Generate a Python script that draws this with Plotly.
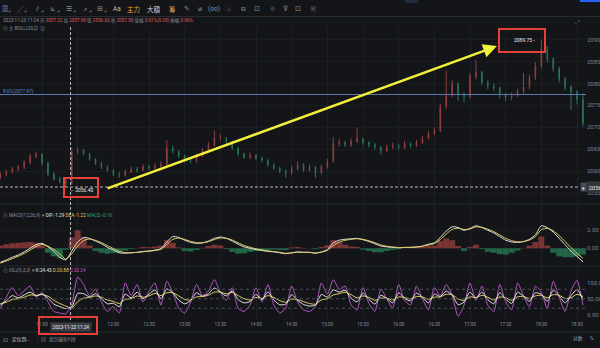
import plotly.graph_objects as go
import pandas as pd

# ---------------- data (5-minute sampling) ----------------
times = pd.date_range("2023-11-23 10:25", periods=99, freq="5min")

opens = [2058.7, 2059.2, 2059.8, 2060.6, 2060.9, 2062.0, 2063.4, 2063.8, 2061.8, 2059.4,
         2058.2, 2057.8, 2057.2, 2064.5, 2064.8, 2064.0, 2062.8, 2061.8, 2061.0, 2060.2,
         2059.3, 2059.0, 2059.8, 2060.5, 2060.2, 2061.0, 2060.8, 2061.2, 2061.5, 2065.2,
         2064.6, 2063.6, 2062.5, 2062.4, 2063.5, 2064.8, 2066.0, 2067.6, 2067.6, 2066.8,
         2065.3, 2064.0, 2063.2, 2063.6, 2063.0, 2062.5, 2061.5, 2060.8, 2060.0, 2059.5,
         2060.5, 2061.5, 2060.2, 2060.9, 2059.6, 2061.0, 2062.2, 2066.2, 2066.6, 2066.0,
         2066.8, 2067.4, 2066.5, 2066.0, 2065.5, 2064.6, 2065.5, 2065.8, 2065.4, 2066.2,
         2065.8, 2066.5, 2067.5, 2068.6, 2069.2, 2074.8, 2077.2, 2079.8, 2077.5, 2077.0,
         2081.6, 2082.6, 2080.2, 2079.4, 2079.0, 2077.5, 2076.8, 2077.2, 2078.2, 2079.2,
         2081.4, 2084.0, 2087.8, 2085.6, 2083.4, 2081.0, 2079.2, 2078.0, 2076.4]
closes = [2059.2, 2059.8, 2060.6, 2060.9, 2062.0, 2063.4, 2063.8, 2061.8, 2059.4, 2058.2,
          2057.8, 2057.2, 2064.5, 2064.8, 2064.0, 2062.8, 2061.8, 2061.0, 2060.2, 2059.3,
          2059.0, 2059.8, 2060.5, 2060.2, 2061.0, 2060.8, 2061.2, 2061.5, 2065.2, 2064.6,
          2063.6, 2062.5, 2062.4, 2063.5, 2064.8, 2066.0, 2067.6, 2067.6, 2066.8, 2065.3,
          2064.0, 2063.2, 2063.6, 2063.0, 2062.5, 2061.5, 2060.8, 2060.0, 2059.5, 2060.5,
          2061.5, 2060.2, 2060.9, 2059.6, 2061.0, 2062.2, 2066.2, 2066.6, 2066.0, 2066.8,
          2067.4, 2066.5, 2066.0, 2065.5, 2064.6, 2065.5, 2065.8, 2065.4, 2066.2, 2065.8,
          2066.5, 2067.5, 2068.6, 2069.2, 2074.8, 2077.2, 2079.8, 2077.5, 2077.0, 2081.6,
          2082.6, 2080.2, 2079.4, 2079.0, 2077.5, 2076.8, 2077.2, 2078.2, 2079.2, 2081.4,
          2084.0, 2087.8, 2085.6, 2083.4, 2081.0, 2079.2, 2078.0, 2076.4, 2071.0]
highs = [2059.8, 2060.3, 2061.0, 2061.4, 2062.5, 2064.0, 2064.4, 2064.0, 2062.2, 2059.8,
         2058.8, 2058.2, 2065.3, 2065.4, 2065.0, 2064.2, 2063.0, 2062.2, 2061.3, 2060.5,
         2059.8, 2060.4, 2061.0, 2061.0, 2061.6, 2061.5, 2061.8, 2062.3, 2067.1, 2065.8,
         2064.8, 2063.8, 2063.0, 2064.0, 2065.3, 2066.6, 2069.2, 2068.4, 2067.8, 2067.0,
         2065.4, 2064.2, 2064.3, 2063.9, 2063.3, 2062.7, 2061.7, 2061.0, 2060.4, 2061.2,
         2062.2, 2061.8, 2061.6, 2061.2, 2061.6, 2062.8, 2067.8, 2067.4, 2066.9, 2067.5,
         2070.0, 2067.6, 2066.8, 2066.4, 2065.8, 2066.1, 2066.5, 2066.2, 2066.9, 2066.6,
         2067.1, 2068.0, 2069.2, 2070.0, 2075.4, 2083.0, 2080.8, 2080.2, 2078.0, 2082.3,
         2085.3, 2082.8, 2080.8, 2080.0, 2079.3, 2077.8, 2077.9, 2078.8, 2082.4, 2082.0,
         2084.8, 2089.75, 2088.5, 2086.0, 2083.8, 2081.5, 2079.6, 2078.5, 2077.8]
lows = [2058.2, 2058.8, 2059.5, 2060.0, 2060.5, 2061.6, 2062.9, 2061.3, 2058.9, 2057.8,
        2057.2, 2056.4, 2056.9, 2064.0, 2063.6, 2062.4, 2061.4, 2060.5, 2059.8, 2058.9,
        2058.5, 2058.8, 2059.6, 2059.7, 2060.0, 2060.3, 2060.4, 2060.9, 2061.2, 2064.0,
        2063.0, 2062.0, 2061.8, 2062.0, 2063.2, 2064.4, 2065.6, 2067.0, 2066.2, 2064.8,
        2063.5, 2062.8, 2062.8, 2062.5, 2062.0, 2061.0, 2060.3, 2059.5, 2058.5, 2059.2,
        2060.2, 2059.8, 2059.9, 2058.5, 2059.3, 2060.6, 2062.0, 2065.6, 2065.5, 2065.6,
        2066.4, 2066.0, 2065.4, 2064.9, 2063.7, 2064.3, 2065.0, 2064.9, 2065.0, 2065.3,
        2065.5, 2066.2, 2067.2, 2068.2, 2068.9, 2074.2, 2076.8, 2076.0, 2075.6, 2076.6,
        2080.9, 2079.6, 2078.7, 2078.2, 2076.6, 2076.0, 2076.2, 2076.9, 2077.7, 2078.6,
        2080.8, 2083.5, 2084.8, 2082.7, 2080.2, 2078.4, 2073.9, 2075.2, 2070.2]

dif = [-1.55, -1.3, -1.0, -0.75, -0.4, 0.0, 0.4, 0.55, 0.15, -0.35,
       -1.0, -1.29, -0.3, 0.7, 1.2, 1.1, 0.8, 0.5, 0.1, -0.2,
       -0.5, -0.55, -0.5, -0.45, -0.35, -0.3, -0.2, -0.05, 0.7, 1.3,
       1.2, 0.9, 0.65, 0.55, 0.6, 0.8, 1.1, 1.25, 1.1, 0.8,
       0.45, 0.15, 0.0, -0.15, -0.25, -0.35, -0.4, -0.5, -0.6, -0.5,
       -0.4, -0.45, -0.45, -0.55, -0.4, -0.15, 0.6, 0.9, 1.0, 1.05,
       1.1, 0.95, 0.75, 0.5, 0.25, 0.15, 0.1, 0.05, 0.1, 0.1,
       0.15, 0.25, 0.45, 0.6, 1.2, 1.9, 2.4, 2.3, 2.0, 2.2,
       2.5, 2.3, 2.0, 1.7, 1.3, 0.9, 0.7, 0.65, 0.75, 1.0,
       1.5, 2.5, 2.3, 1.8, 1.1, 0.4, -0.3, -0.9, -1.5]
dea = [-1.65, -1.42, -1.15, -0.89, -0.57, -0.2, 0.19, 0.42, 0.24, -0.14,
       -0.62, -1.22, -0.62, 0.24, 0.86, 1.02, 0.88, 0.63, 0.29, -0.03,
       -0.34, -0.48, -0.49, -0.46, -0.39, -0.33, -0.25, -0.12, 0.41, 0.99,
       1.13, 0.98, 0.77, 0.63, 0.61, 0.73, 0.97, 1.15, 1.12, 0.91,
       0.61, 0.31, 0.11, -0.06, -0.18, -0.29, -0.36, -0.45, -0.55, -0.52,
       -0.44, -0.45, -0.45, -0.52, -0.44, -0.25, 0.3, 0.69, 0.89, 0.99,
       1.06, 0.99, 0.83, 0.62, 0.38, 0.23, 0.15, 0.08, 0.09, 0.1,
       0.13, 0.21, 0.37, 0.52, 0.96, 1.57, 2.11, 2.23, 2.08, 2.16,
       2.38, 2.33, 2.12, 1.85, 1.49, 1.11, 0.84, 0.72, 0.74, 0.91,
       1.29, 2.08, 2.22, 1.95, 1.40, 0.75, 0.07, -0.56, -1.11]
macd_hist = [0.3, 0.45, 0.55, 0.6, 0.65, 0.7, 0.6, 0.3, -0.5, -0.9,
             -1.1, -0.16, 1.2, 2.0, 1.2, 0.3, -0.3, -0.5, -0.6, -0.55,
             -0.45, -0.25, -0.1, 0.05, 0.15, 0.12, 0.2, 0.3, 0.9, 0.6,
             0.1, -0.3, -0.35, -0.2, 0.05, 0.25, 0.4, 0.3, -0.1, -0.4,
             -0.6, -0.55, -0.4, -0.3, -0.25, -0.2, -0.15, -0.2, -0.2, 0.1,
             0.15, 0.05, 0.0, -0.1, 0.15, 0.35, 0.9, 0.7, 0.4, 0.2,
             0.15, -0.15, -0.3, -0.45, -0.45, -0.3, -0.2, -0.1, 0.05, 0.05,
             0.1, 0.15, 0.3, 0.3, 0.8, 1.1, 0.9, 0.25, -0.3, 0.15,
             0.4, -0.1, -0.4, -0.5, -0.65, -0.7, -0.5, -0.25, 0.05, 0.3,
             0.7, 1.3, 0.3, -0.5, -0.9, -1.0, -1.0, -0.9, -0.7]

kdj_k = [30, 44, 60, 53, 62, 71, 59, 65, 52, 33,
         25, 19, 24.43, 67, 66, 56, 66, 50, 34, 36,
         25, 65, 53, 71, 50, 64, 78, 50, 81, 69,
         46, 34, 44, 69, 58, 66, 84, 71, 59, 75,
         47, 37, 41, 64, 47, 72, 46, 31, 33, 63,
         45, 32, 27, 30, 64, 55, 78, 71, 77, 52,
         40, 68, 48, 33, 61, 51, 37, 69, 51, 43,
         68, 54, 37, 65, 57, 74, 62, 31, 40, 71,
         51, 71, 47, 34, 69, 49, 35, 71, 58, 42,
         69, 64, 42, 77, 59, 37, 60, 79, 48]
kdj_d = [35, 39, 48, 50, 55, 62, 61, 63, 58, 45,
         35, 27, 20.88, 41, 52, 54, 59, 55, 46, 42,
         35, 48, 50, 59, 55, 59, 67, 60, 69, 69,
         59, 48, 46, 56, 57, 61, 71, 71, 66, 70,
         60, 50, 46, 54, 51, 60, 54, 44, 39, 49,
         47, 41, 35, 33, 46, 50, 62, 66, 71, 63,
         53, 59, 54, 45, 52, 52, 46, 56, 54, 49,
         57, 56, 48, 55, 56, 64, 63, 49, 45, 56,
         54, 61, 55, 46, 56, 53, 45, 56, 57, 51,
         59, 61, 53, 63, 61, 51, 53, 64, 57]
kdj_j = [20, 55, 85, 60, 75, 90, 55, 70, 40, 10,
         5, 2, 33.24, 118, 95, 60, 80, 40, 10, 25,
         5, 100, 60, 95, 40, 75, 100, 30, 105, 70,
         20, 5, 40, 95, 60, 75, 110, 70, 45, 85,
         20, 10, 30, 85, 40, 95, 30, 5, 20, 90,
         40, 15, 10, 25, 100, 65, 110, 80, 90, 30,
         15, 85, 35, 10, 80, 50, 20, 95, 45, 30,
         90, 50, 15, 85, 60, 95, 60, -5, 30, 100,
         45, 90, 30, 10, 95, 40, 15, 100, 60, 25,
         90, 70, 20, 105, 55, 10, 75, 108, 30]

price_ticks = [2055, 2060, 2065, 2070, 2075, 2080, 2085, 2090]
time_ticks = ["11:00", "11:30", "12:00", "12:30", "13:00", "13:30", "14:00", "14:30",
              "15:00", "15:30", "16:00", "16:30", "17:00", "17:30", "18:00", "18:30"]
fib_level = 2077.47
low_price = 2056.40
high_price = 2089.75
cross_time = "2023-11-23 11:24"

# ---------------- geometry helpers ----------------
W, H = 600, 348
ML, MR, MT, MB = 0, 14, 28, 28
PW, PH = W - ML - MR, H - MT - MB


def py(Y):
    return (H - MB - Y) / PH


def px(X):
    return (X - ML) / PW


BG = "#131519"
GRID = "#1d2026"
TXT = "#8a8f98"
RED = "#e05a5a"
FONT = "Roboto, 'Noto Sans CJK SC', sans-serif"
SP = "&nbsp;"

fig = go.Figure()

fig.add_trace(go.Candlestick(
    x=times, open=opens, high=highs, low=lows, close=closes,
    increasing=dict(line=dict(color="#8f4040", width=1), fillcolor="#8f4040"),
    decreasing=dict(line=dict(color="#2a7458", width=1), fillcolor="#2a7458"),
    whiskerwidth=0, hoverinfo="skip", xaxis="x", yaxis="y", showlegend=False))

hist_colors = ["#7a3434" if v >= 0 else "#216646" for v in macd_hist]
fig.add_trace(go.Bar(x=times, y=macd_hist, marker=dict(color=hist_colors, line=dict(width=0)),
                     width=300000, hoverinfo="skip", xaxis="x", yaxis="y2", showlegend=False))
fig.add_trace(go.Scatter(x=times, y=dif, mode="lines", line=dict(color="#e6e6e6", width=1, shape="spline", smoothing=0.6),
                         hoverinfo="skip", xaxis="x", yaxis="y2", showlegend=False))
fig.add_trace(go.Scatter(x=times, y=dea, mode="lines", line=dict(color="#e3cf63", width=1, shape="spline", smoothing=0.6),
                         hoverinfo="skip", xaxis="x", yaxis="y2", showlegend=False))

fig.add_trace(go.Scatter(x=times, y=kdj_j, mode="lines", line=dict(color="#b556c2", width=1, shape="spline", smoothing=0.6),
                         hoverinfo="skip", xaxis="x", yaxis="y3", showlegend=False))
fig.add_trace(go.Scatter(x=times, y=kdj_d, mode="lines", line=dict(color="#e3cf63", width=1, shape="spline", smoothing=0.6),
                         hoverinfo="skip", xaxis="x", yaxis="y3", showlegend=False))
fig.add_trace(go.Scatter(x=times, y=kdj_k, mode="lines", line=dict(color="#e6e6e6", width=1, shape="spline", smoothing=0.6),
                         hoverinfo="skip", xaxis="x", yaxis="y3", showlegend=False))

x_start = pd.Timestamp("2023-11-23 10:24:40")
x_end = pd.Timestamp("2023-11-23 18:37:34")
tick_times = [pd.Timestamp("2023-11-23 " + s) for s in time_ticks]
# the 11:30 label sits under the crosshair time label in the picture
tick_text_shown = ["" if s == "11:30" else s for s in time_ticks]

yax_common = dict(side="right", ticks="", showline=False, zeroline=False, automargin=False,
                  tickfont=dict(size=6, color="#7d828c", family=FONT), fixedrange=True)

fig.update_layout(
    width=W, height=H, margin=dict(l=ML, r=MR, t=MT, b=MB),
    paper_bgcolor=BG, plot_bgcolor=BG, font=dict(family=FONT, color=TXT, size=5),
    showlegend=False, boxgap=0.85, hovermode=False,
    xaxis=dict(domain=[0, 1], anchor="y3", range=[x_start, x_end], rangeslider=dict(visible=False),
               tickvals=tick_times, ticktext=tick_text_shown, ticks="", showline=False, zeroline=False,
               showgrid=True, gridcolor=GRID, gridwidth=1, automargin=False,
               tickfont=dict(size=4.6, color=TXT, family=FONT), fixedrange=True),
    yaxis=dict(domain=[py(203), 1.0], anchor="x", range=[2052.76, 2092.62],
               tickvals=price_ticks, ticktext=[f"{v:.2f}" for v in price_ticks],
               showgrid=True, gridcolor="#1a1d22", **yax_common),
    yaxis2=dict(domain=[py(265), py(205)], anchor="x", range=[-1.86, 4.81],
                tickvals=[0, 2], ticktext=["0.00", "2.00"], showgrid=True, gridcolor="#1a1d22", **yax_common),
    yaxis3=dict(domain=[0, py(267)], anchor="x", range=[-17, 150.2],
                tickvals=[0, 50, 100], ticktext=["0.00", "50.00", "100.00"], showgrid=False, **yax_common),
)

shapes = []
for Y in (16.5, 204, 266, 332):
    shapes.append(dict(type="line", xref="paper", yref="paper", x0=0, x1=px(600), y0=py(Y), y1=py(Y),
                       line=dict(color="#262a31", width=1)))
shapes.append(dict(type="line", xref="paper", yref="y", x0=0, x1=1, y0=fib_level, y1=fib_level,
                   line=dict(color="#5a78ad", width=1)))
shapes.append(dict(type="line", xref="paper", yref="y", x0=0, x1=px(580), y0=low_price, y1=low_price,
                   line=dict(color="#b8b8b8", width=1, dash="3px,2px")))
shapes.append(dict(type="line", xref="x", yref="paper", x0=cross_time, x1=cross_time,
                   y0=0, y1=py(25), line=dict(color="#b8b8b8", width=1, dash="3px,2px")))
for lv in (20, 50, 80):
    shapes.append(dict(type="line", xref="paper", yref="y3", x0=0, x1=1, y0=lv, y1=lv,
                       line=dict(color="#4a4d55", width=1, dash="3px,3px")))
shapes.append(dict(type="rect", xref="paper", yref="paper", x0=px(39), x1=px(97), y0=py(334), y1=py(317),
                   line=dict(color="#e5403a", width=2)))
shapes.append(dict(type="rect", xref="paper", yref="y", x0=px(64), x1=px(98), y0=2054.12, y1=2058.45,
                   line=dict(color="#e5403a", width=2)))
shapes.append(dict(type="rect", xref="paper", yref="y", x0=px(499), x1=px(545), y0=2087.15, y1=2092.4,
                   line=dict(color="#e5403a", width=2)))
shapes.append(dict(type="rect", xref="paper", yref="paper", x0=px(580), x1=px(600), y0=py(2), y1=py(0),
                   fillcolor="#2962ff", line=dict(width=0)))
shapes.append(dict(type="rect", xref="paper", yref="paper", x0=px(405), x1=px(418), y0=py(3), y1=py(0),
                   fillcolor="#1f2a3a", line=dict(width=0)))
fig.update_layout(shapes=shapes)

ann = []


def t(X, Y, s, color=TXT, size=4.7, xanchor="left", **kw):
    d = dict(x=px(X), y=py(Y), xref="paper", yref="paper", text=s, showarrow=False,
             xanchor=xanchor, yanchor="middle", font=dict(size=size, color=color, family=FONT))
    d.update(kw)
    ann.append(d)


def spans(parts):
    return SP.join(f"<span style='color:{c}'>{s}</span>" for s, c in parts)


# toolbar
tool = [(5, "▦", "#7b9cc9"), (20, "╱", TXT), (37, "⫽", TXT), (53, "⊾", TXT), (69, "☰", TXT),
        (85, "⩘", TXT), (100, "⊞", TXT), (117, "Aa", "#b8bcc4"), (133, "主力", "#e2a13f"),
        (154, "大額", "#cfd2d8"), (172, "筹", "#e2b040"), (187, "✎", TXT), (200, "⌀", TXT),
        (214, "(oo)", TXT), (229, "⌂", TXT), (243, "⧉", TXT), (257, "⊡", TXT), (272, "⟐", TXT),
        (285, "⊽", TXT), (298, "⊡", TXT), (313, "⎘", TXT)]
for X, s, c in tool:
    t(X, 9, s, c, size=6.5, xanchor="center")
for X in (9, 25, 42, 58, 74, 90, 105):
    t(X, 11, "◢", "#5a5f68", size=2.5, xanchor="center")
t(577, 22, "⤢", "#6f747c", size=6, xanchor="center")

# info line
info = [("2023-11-23 11:24", TXT), ("开", TXT), ("2057.22", RED), ("高", TXT),
        ("2057.90", RED), ("低", TXT), ("2056.63", RED), ("收", TXT),
        ("2057.50", RED), ("涨幅", TXT), ("0.01%(0.28)", RED), ("振幅", TXT),
        ("0.06%", RED)]
t(1, 20.7, spans(info), TXT, size=4.6)
t(1, 28.5, "⊖" + SP + "主" + SP + "BOLL(20,2)" + SP * 2 + "⊘", TXT)

# MACD legend
macd_leg = [("⊖", TXT), ("MACD(12,26,9)", TXT), ("▾", TXT), ("DIF:-1.29", "#e6e6e6"),
            ("DEA:-1.22", "#e3cf63"), ("MACD:-0.16", "#36a272")]
t(1, 215, spans(macd_leg), TXT, size=4.7)
# KDJ legend
kdj_leg = [("⊖", TXT), ("KDJ(9,3,3)", TXT), ("▾", TXT), ("K:24.43", "#e6e6e6"),
           ("D:20.88", "#e3cf63"), ("J:33.24", "#c060c8")]
t(1, 270, spans(kdj_leg), TXT, size=4.7)

ann.append(dict(x=0.002, y=fib_level + 0.6, xref="paper", yref="y", text="8.6%(2077.47)", showarrow=False,
                xanchor="left", yanchor="middle", font=dict(size=4.7, color="#5b8bd6", family=FONT)))

ann.append(dict(x=px(82), y=low_price - 0.7, xref="paper", yref="y", text="⌐" + SP + f"{low_price:.2f}",
                showarrow=False, xanchor="center", yanchor="middle",
                font=dict(size=5, color="#e8e8e8", family=FONT)))
ann.append(dict(x=px(524), y=high_price + 0.15, xref="paper", yref="y", text=f"{high_price:.2f}" + SP + "‐",
                showarrow=False, xanchor="center", yanchor="middle",
                font=dict(size=5, color="#e8e8e8", family=FONT)))

ann.append(dict(x=cross_time, y=py(327), xref="x", yref="paper", text=cross_time,
                showarrow=False, xanchor="center", yanchor="middle", bgcolor="#3a3e46", borderpad=1.5,
                font=dict(size=4.7, color="#f0f0f0", family=FONT)))
ann.append(dict(x=1.0, y=low_price, xref="paper", yref="y", text=f"{low_price:.2f}", showarrow=False,
                xanchor="left", yanchor="middle", bgcolor="#33363d", borderpad=1.5,
                font=dict(size=6, color="#e8e8e8", family=FONT)))
ann.append(dict(x=px(583.5), y=low_price, xref="paper", yref="y", text="+", showarrow=False,
                xanchor="center", yanchor="middle", bgcolor="#4a4e56", borderpad=0.5,
                font=dict(size=6, color="#ffffff", family=FONT)))

ann.append(dict(x="2023-11-23 17:22:40", y=2088.5, xref="x", yref="y",
                ax="2023-11-23 11:53:50", ay=2055.95, axref="x", ayref="y",
                text="", showarrow=True, arrowhead=2, arrowsize=1.1, arrowwidth=2.5, arrowcolor="#f4f03a"))

# bottom bar
t(5, 339, "⊡", "#9aa0a8", size=6, xanchor="center")
t(10, 339, "定位到...", "#d0d3d8", size=4.7)
t(38, 339, "|", "#4a4e56", size=5, xanchor="center")
t(43, 339, "⊠", "#7d828c", size=5, xanchor="center")
t(47, 339, "跳到最新K线", "#7d828c", size=4.7)
t(578, 338, "对数", "#9aa0a8", size=4.7, xanchor="center")
t(592, 338, "%", "#9aa0a8", size=4.7, xanchor="center")

fig.update_layout(annotations=ann)

fig.write_html("out.html", config={"displayModeBar": False, "staticPlot": True})
